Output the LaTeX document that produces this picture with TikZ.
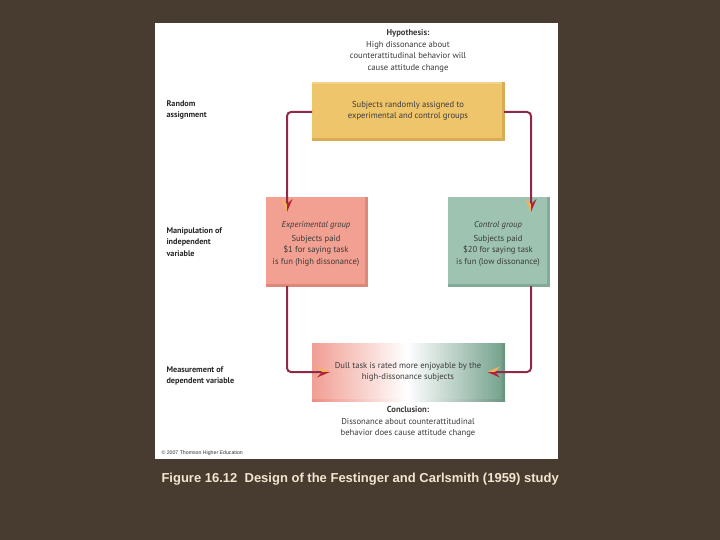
\documentclass[tikz,border=0pt]{standalone}
\usepackage{fontspec}
\setmainfont{Liberation Sans}
\newfontfamily\diag{PT Sans}
\definecolor{bgbrown}{HTML}{483B30}
\definecolor{capcol}{HTML}{F3E6CF}
\definecolor{yel}{HTML}{EFC56C}
\definecolor{yeldark}{HTML}{D9AC55}
\definecolor{sal}{HTML}{F2A092}
\definecolor{saldark}{HTML}{DD8878}
\definecolor{grn}{HTML}{9EC4B1}
\definecolor{grndark}{HTML}{82AA96}
\definecolor{salgrad}{HTML}{EE8D80}
\definecolor{grngrad}{HTML}{76A38E}
\definecolor{linecol}{HTML}{8E2A46}
\definecolor{arrdark}{HTML}{B5213A}
\definecolor{arrlight}{HTML}{F2B25A}
\definecolor{txt}{HTML}{3A3A3A}
\tikzset{
  boxtext/.style={font=\diag\fontsize{8.6}{11.6}\selectfont, text=txt, align=center},
  sidelabel/.style={font=\diag\bfseries\fontsize{8.2}{11.6}\selectfont, text=black!85, align=left, anchor=west},
  conn/.style={draw=linecol, line width=2pt, rounded corners=4pt},
  arrowhd/.pic={
    \fill[arrlight] (0,0) -- (-13,-5.5) -- (-8,0) -- cycle;
    \fill[arrdark] (0,0) -- (-8,0) -- (-13,5.5) -- cycle;
  }
}
\begin{document}
\begin{tikzpicture}[x=1pt,y=-1pt]
\useasboundingbox (0,0) rectangle (720,540);
\fill[bgbrown] (0,0) rectangle (720,540);
\fill[white] (155,23) rectangle (558,459);

% hypothesis
\node[boxtext] (hyp) at (408,51) {\textbf{Hypothesis:}\\High dissonance about\\counterattitudinal behavior will\\cause attitude change};

% yellow box
\fill[yeldark] (312,82) rectangle (505,141);
\fill[yel] (312,82) rectangle (502,138);
\fill[yel!80!white] (312,82) rectangle (502,84);
\node[boxtext] (rand) at (408,111) {Subjects randomly assigned to\\experimental and control groups};
\coordinate (yl) at (312,112);
\coordinate (yr) at (504,112);

% experimental box
\fill[saldark] (266,197) rectangle (368,287);
\fill[sal] (266,197) rectangle (365,284);
\node[boxtext] (exp) at (316,244) {\textit{Experimental group}\\[1.5pt]Subjects paid\\\$1 for saying task\\is fun (high dissonance)};
\coordinate (et) at (287,212);
\coordinate (eb) at (287,286);

% control box
\fill[grndark] (448,197) rectangle (550,287);
\fill[grn] (448,197) rectangle (547,284);
\node[boxtext] (ctl) at (498,244) {\textit{Control group}\\[1.5pt]Subjects paid\\\$20 for saying task\\is fun (low dissonance)};
\coordinate (ct) at (531,212);
\coordinate (cb) at (531,286);

% bottom gradient box
\shade[left color=salgrad, right color=grngrad!90!black, middle color=white] (312,343) rectangle (505,401);
\shade[left color=salgrad!85!white, right color=grngrad, middle color=white] (312,343) rectangle (502,398);
\node[boxtext] (dv) at (408,372) {Dull task is rated more enjoyable by the\\high-dissonance subjects};
\coordinate (bl) at (330,372);
\coordinate (br) at (487,372);

% conclusion
\node[boxtext] (conc) at (408,422) {\textbf{Conclusion:}\\Dissonance about counterattitudinal\\behavior does cause attitude change};

% side labels
\node[sidelabel] (l1) at (163,110) {Random\\assignment};
\node[sidelabel] (l2) at (163,242) {Manipulation of\\independent\\variable};
\node[sidelabel] (l3) at (163,376) {Measurement of\\dependent variable};

\node[font=\fontsize{5.2}{6}\selectfont, text=black!80, anchor=west] (copy) at (158,453) {© 2007 Thomson Higher Education};

% connectors
\draw[conn] (yl) -- (et |- yl) -- ([yshift=6pt]et);
\draw[conn] (yr) -- (ct |- yr) -- ([yshift=6pt]ct);
\draw[conn] (eb) -- (eb |- bl) -- ([xshift=-6pt]bl);
\draw[conn] (cb) -- (cb |- br) -- ([xshift=6pt]br);

% arrowheads
\pic[rotate=-90, yscale=-1] at (et) {arrowhd};
\pic[rotate=-90, yscale=-1] at (ct) {arrowhd};
\pic at (bl) {arrowhd};
\pic[xscale=-1] at (br) {arrowhd};

% caption
\node[font=\bfseries\fontsize{13}{15}\selectfont, text=capcol, anchor=west] (cap) at (158,479) {Figure 16.12\ \ Design of the Festinger and Carlsmith (1959) study};
\end{tikzpicture}
\end{document}
